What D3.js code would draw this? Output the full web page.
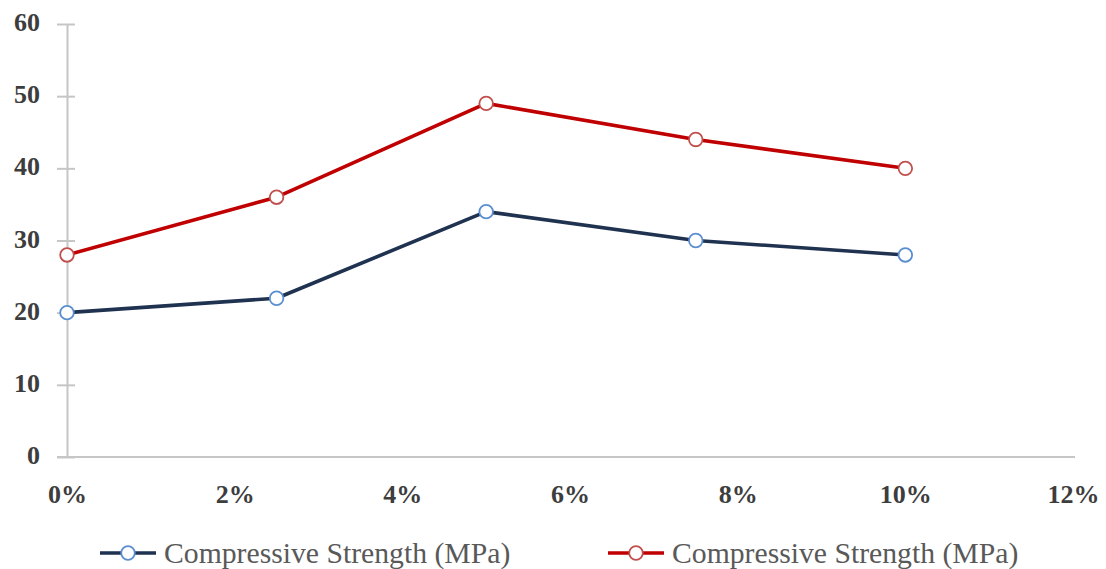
<!DOCTYPE html>
<html>
<head>
<meta charset="utf-8">
<script src="https://cdn.jsdelivr.net/npm/d3@7"></script>
<style>
  html, body { margin: 0; padding: 0; background: #fff; }
  svg { display: block; }
  .serif { font-family: "Liberation Serif", "DejaVu Serif", serif; }
</style>
</head>
<body>
<svg id="chart" width="1106" height="569"></svg>
<script>
// Fibre content (%) on the x axis
const dosage = [0, 2.5, 5, 7.5, 10];
// Compressive strength (MPa) for the two mixes
const seriesA = [20, 22, 34, 30, 28];
const seriesB = [28, 36, 49, 44, 40];
const seriesNames = ["Compressive Strength (MPa)", "Compressive Strength (MPa)"];
const xTicks = [0, 2, 4, 6, 8, 10, 12];
const yTicks = [0, 10, 20, 30, 40, 50, 60];

const svg = d3.select("#chart");
const plot = { left: 67, right: 1073, top: 24, bottom: 457 };

const x = d3.scaleLinear().domain([0, 12]).range([plot.left, plot.right]);
const y = d3.scaleLinear().domain([0, 60]).range([plot.bottom, plot.top]);

const axisColor = "#c6c6c6";
const labelColor = "#3d3d3d";

// Y axis with ticks crossing the line
const yAxis = svg.append("g").attr("transform", `translate(${plot.left},0)`)
  .call(d3.axisLeft(y).tickValues(yTicks).tickSize(0).tickPadding(27).tickFormat(d3.format("d")));
yAxis.attr("font-family", null).attr("font-size", null);
yAxis.select(".domain").attr("stroke", axisColor).attr("stroke-width", 2);
yAxis.selectAll(".tick").append("line")
  .attr("x1", -10).attr("x2", 8).attr("stroke", axisColor).attr("stroke-width", 2);
yAxis.selectAll(".tick text")
  .attr("class", "serif").attr("fill", labelColor)
  .attr("font-weight", "bold").attr("font-size", 26).attr("dy", "0.25em");

// X axis without tick marks
const xAxis = svg.append("g").attr("transform", `translate(0,${plot.bottom})`)
  .call(d3.axisBottom(x).tickValues(xTicks).tickSize(0).tickPadding(30).tickFormat(d => d + "%"));
xAxis.attr("font-family", null).attr("font-size", null);
xAxis.select(".domain").attr("stroke", axisColor).attr("stroke-width", 2)
  .attr("d", `M${plot.left - 10},0H${plot.right + 2}`);
xAxis.selectAll(".tick text")
  .attr("class", "serif").attr("fill", labelColor)
  .attr("font-weight", "bold").attr("font-size", 26).attr("dy", "0.6em");

const styles = [
  { values: seriesA, line: "#1f3250", marker: "#5a8ed0" },
  { values: seriesB, line: "#c00000", marker: "#c0504d" }
];

const lineGen = d3.line().x((d, i) => x(dosage[i])).y(d => y(d));

styles.forEach(s => {
  svg.append("path").datum(s.values)
    .attr("d", lineGen).attr("fill", "none")
    .attr("stroke", s.line).attr("stroke-width", 3.6).attr("stroke-linejoin", "round");
  svg.append("g").selectAll("circle").data(s.values).join("circle")
    .attr("cx", (d, i) => x(dosage[i])).attr("cy", d => y(d)).attr("r", 6.8)
    .attr("fill", "#fff").attr("stroke", s.marker).attr("stroke-width", 1.8);
});

// Legend
const legendY = 553;
const legendX = [100, 608];
styles.forEach((s, i) => {
  const g = svg.append("g").attr("transform", `translate(${legendX[i]},${legendY})`);
  g.append("line").attr("x1", 0).attr("x2", 56).attr("stroke", s.line).attr("stroke-width", 3.6);
  g.append("circle").attr("cx", 28).attr("r", 6.8).attr("fill", "#fff")
    .attr("stroke", s.marker).attr("stroke-width", 1.8);
  g.append("text").attr("class", "serif").attr("x", 64).attr("dy", "0.35em")
    .attr("font-size", 29.7).attr("fill", "#595959")
    .text(seriesNames[i]);
});
</script>
</body>
</html>
